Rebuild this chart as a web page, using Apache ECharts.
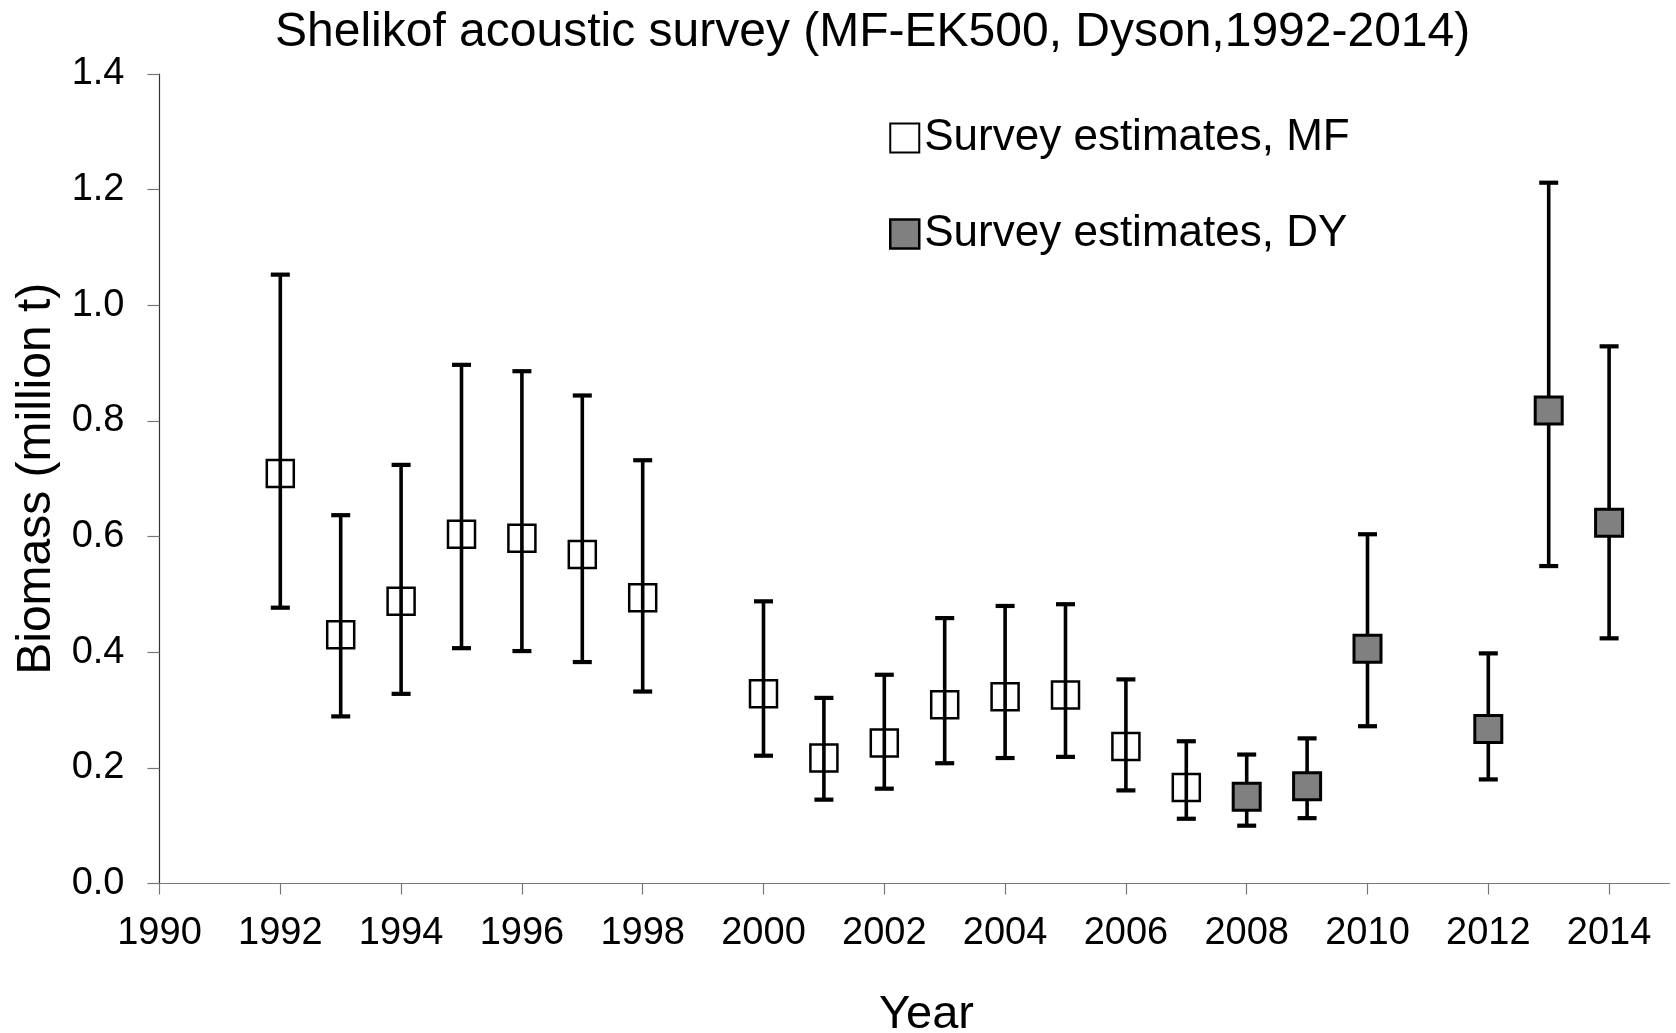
<!DOCTYPE html>
<html>
<head>
<meta charset="utf-8">
<title>Shelikof acoustic survey</title>
<script src="https://cdn.jsdelivr.net/npm/echarts@6/dist/echarts.min.js"></script>
<style>
  html, body { margin: 0; padding: 0; background: #fff; }
  #chart { width: 1676px; height: 1033px; }
</style>
</head>
<body>
<div id="chart"></div>
<script>
// Survey years and biomass estimates (million t) with lower / upper interval bounds
const mfYears = [1992, 1993, 1994, 1995, 1996, 1997, 1998, 2000, 2001, 2002, 2003, 2004, 2005, 2006, 2007];
const mfBiomass = [0.709, 0.430, 0.488, 0.604, 0.597, 0.569, 0.494, 0.328, 0.217, 0.243, 0.309, 0.323, 0.326, 0.237, 0.166];
const mfLower = [0.477, 0.289, 0.328, 0.407, 0.402, 0.383, 0.332, 0.221, 0.145, 0.164, 0.208, 0.217, 0.219, 0.161, 0.112];
const mfUpper = [1.053, 0.637, 0.724, 0.897, 0.886, 0.844, 0.732, 0.488, 0.321, 0.361, 0.459, 0.480, 0.483, 0.353, 0.246];

const dyYears = [2008, 2009, 2010, 2012, 2013, 2014];
const dyBiomass = [0.150, 0.168, 0.406, 0.267, 0.818, 0.624];
const dyLower = [0.100, 0.113, 0.272, 0.180, 0.549, 0.424];
const dyUpper = [0.223, 0.251, 0.604, 0.398, 1.212, 0.929];

const xTickYears = [1990, 1992, 1994, 1996, 1998, 2000, 2002, 2004, 2006, 2008, 2010, 2012, 2014];

const FONT = '"Liberation Sans", Arial, Helvetica, sans-serif';

function points(years, est) {
  return years.map((y, i) => [y, est[i]]);
}
function bars(years, est, lo, hi) {
  return years.map((y, i) => [y, est[i], lo[i], hi[i]]);
}

// Vertical interval line with horizontal caps at both ends
function renderErrorBar(params, api) {
  const x = api.value(0);
  const lowPt = api.coord([x, api.value(2)]);
  const highPt = api.coord([x, api.value(3)]);
  const half = 9.5;
  const capStyle = { stroke: '#000', lineWidth: 4.2 };
  return {
    type: 'group',
    children: [
      { type: 'line', shape: { x1: highPt[0], y1: highPt[1], x2: lowPt[0], y2: lowPt[1] }, style: { stroke: '#000', lineWidth: 3.6 } },
      { type: 'line', shape: { x1: highPt[0] - half, y1: highPt[1], x2: highPt[0] + half, y2: highPt[1] }, style: capStyle },
      { type: 'line', shape: { x1: lowPt[0] - half, y1: lowPt[1], x2: lowPt[0] + half, y2: lowPt[1] }, style: capStyle }
    ]
  };
}

const chart = echarts.init(document.getElementById('chart'), null, { renderer: 'canvas' });

chart.setOption({
  animation: false,
  backgroundColor: '#fff',
  textStyle: { fontFamily: FONT, color: '#000' },
  title: {
    text: 'Shelikof acoustic survey (MF-EK500, Dyson,1992-2014)',
    left: 275,
    top: 9,
    padding: 0,
    textStyle: { fontFamily: FONT, fontSize: 48, fontWeight: 'normal', color: '#000' }
  },
  legend: {
    orient: 'vertical',
    left: 889,
    top: 116,
    itemWidth: 29,
    itemHeight: 29,
    itemGap: 52,
    padding: 0,
    textStyle: { fontFamily: FONT, fontSize: 44, color: '#000' },
    data: [
      { name: 'Survey estimates, MF', icon: 'rect', itemStyle: { color: '#fff', borderColor: '#000', borderWidth: 2 } },
      { name: 'Survey estimates, DY', icon: 'rect', itemStyle: { color: '#808080', borderColor: '#000', borderWidth: 2.5 } }
    ]
  },
  grid: {
    left: 159.5, right: 6.5, top: 74, bottom: 149.5,
    containLabel: false,
    outerBoundsMode: 'none'
  },
  xAxis: {
    type: 'value',
    min: 1990,
    max: 2015,
    interval: 2,
    name: 'Year',
    nameLocation: 'middle',
    nameGap: 108,
    nameTextStyle: { fontFamily: FONT, fontSize: 47, color: '#000', padding: [0, 0, 0, 24] },
    axisLine: { show: true, lineStyle: { color: '#777', width: 1.2 } },
    axisTick: { show: true, inside: false, length: 11, customValues: xTickYears, lineStyle: { color: '#777', width: 1.2 } },
    axisLabel: {
      customValues: xTickYears,
      margin: 31,
      fontFamily: FONT,
      fontSize: 38,
      color: '#000',
      formatter: v => String(v)
    },
    splitLine: { show: false }
  },
  yAxis: {
    type: 'value',
    min: 0,
    max: 1.4,
    interval: 0.2,
    name: 'Biomass (million t)',
    nameLocation: 'middle',
    nameGap: 97,
    nameTextStyle: { fontFamily: FONT, fontSize: 48, color: '#000' },
    axisLine: { show: true, lineStyle: { color: '#333', width: 1.2 } },
    axisTick: { show: true, inside: false, length: 12, lineStyle: { color: '#777', width: 1.2 } },
    axisLabel: {
      margin: 35,
      fontFamily: FONT,
      fontSize: 38,
      color: '#000',
      formatter: v => v.toFixed(1)
    },
    splitLine: { show: false }
  },
  series: [
    {
      name: 'MF interval',
      type: 'custom',
      renderItem: renderErrorBar,
      encode: { x: 0, y: [1, 2, 3] },
      data: bars(mfYears, mfBiomass, mfLower, mfUpper),
      z: 2
    },
    {
      name: 'DY interval',
      type: 'custom',
      renderItem: renderErrorBar,
      encode: { x: 0, y: [1, 2, 3] },
      data: bars(dyYears, dyBiomass, dyLower, dyUpper),
      z: 2
    },
    {
      name: 'Survey estimates, MF',
      type: 'scatter',
      symbol: 'rect',
      symbolSize: 27,
      itemStyle: { color: 'rgba(255,255,255,0)', borderColor: '#000', borderWidth: 2.5, opacity: 1 },
      data: points(mfYears, mfBiomass),
      z: 3
    },
    {
      name: 'Survey estimates, DY',
      type: 'scatter',
      symbol: 'rect',
      symbolSize: 27,
      itemStyle: { color: '#808080', borderColor: '#000', borderWidth: 3, opacity: 1 },
      data: points(dyYears, dyBiomass),
      z: 3
    }
  ]
});
</script>
</body>
</html>
